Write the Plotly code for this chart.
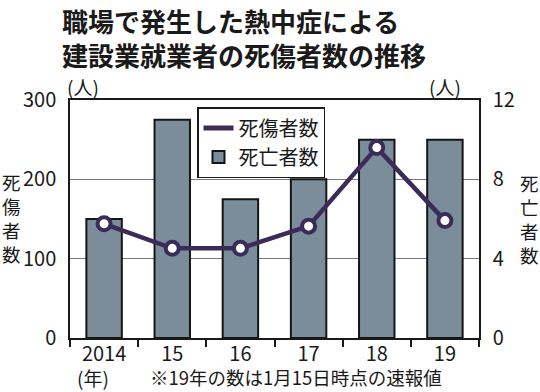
import plotly.graph_objects as go

years = ["2014", "15", "16", "17", "18", "19"]
casualties = [144, 113, 113, 141, 240, 148]   # 死傷者数 (left axis)
deaths = [6, 11, 7, 8, 10, 10]                # 死亡者数 (right axis)
left_ticks = [0, 100, 200, 300]
right_ticks = [0, 4, 8, 12]

FONT = "Noto Sans CJK JP"
BAR = "#7b8d9a"
LINE = "#3a2b58"

W, H = 540, 392
L, R, T, B = 70, 479, 100, 338
def px(x):
    return (x - L) / (R - L)
def py(y):
    return (B - y) / (B - T)

fig = go.Figure()
fig.add_trace(go.Bar(
    x=years, y=deaths, name="死亡者数", yaxis="y",
    marker=dict(color=BAR, line=dict(color="#151515", width=2)),
    width=0.52, legendrank=2,
))
fig.add_trace(go.Scatter(
    x=years, y=casualties, yaxis="y2", mode="lines+markers", showlegend=False,
    line=dict(color=LINE, width=4.5),
    marker=dict(size=13, color="white", line=dict(color=LINE, width=4)),
))
fig.add_trace(go.Scatter(
    x=[None], y=[None], yaxis="y2", mode="lines", name="死傷者数",
    line=dict(color=LINE, width=5), legendrank=1,
))

fig.update_layout(
    width=W, height=H,
    margin=dict(l=L, r=W - R, t=T, b=H - B, autoexpand=False),
    paper_bgcolor="white", plot_bgcolor="white",
    font=dict(family=FONT, color="#1a1a1a", size=20),
    xaxis=dict(
        type="category", tickson="boundaries", ticks="outside", ticklen=7,
        tickcolor="#1a1a1a", tickwidth=1.5, automargin=False,
        showline=True, linecolor="#1a1a1a", linewidth=1.5, mirror=True,
        showgrid=False, tickfont=dict(size=20), ticklabelstandoff=-3,
    ),
    yaxis=dict(
        side="right", range=[0, 12], tickvals=right_ticks, automargin=False,
        showgrid=True, gridcolor="#7a7a7a", gridwidth=1,
        showline=True, linecolor="#1a1a1a", linewidth=1.5,
        ticks="", ticklabelstandoff=8, zeroline=False, tickfont=dict(size=20),
    ),
    yaxis2=dict(
        side="left", overlaying="y", range=[0, 300], tickvals=left_ticks,
        automargin=False,
        showgrid=False, showline=True, linecolor="#1a1a1a", linewidth=1.5,
        ticks="", ticklabelstandoff=8, zeroline=False, tickfont=dict(size=20),
    ),
    legend=dict(
        x=px(197), y=py(107), xanchor="left", yanchor="top",
        bgcolor="white", bordercolor="#1a1a1a", borderwidth=1.5,
        font=dict(size=20), itemwidth=30, tracegroupgap=0,
    ),
    showlegend=True,
)

ann = []
ann.append(dict(text="職場で発生した熱中症による<br>建設業就業者の死傷者数の推移",
                x=px(60), y=py(0), xanchor="left", yanchor="top", align="left",
                font=dict(size=26, family=FONT, weight="bold"), showarrow=False))
ann.append(dict(text="(人)", x=px(83), y=py(86), xanchor="center", yanchor="middle",
                font=dict(size=19), showarrow=False))
ann.append(dict(text="(人)", x=px(445), y=py(86), xanchor="center", yanchor="middle",
                font=dict(size=19), showarrow=False))
ann.append(dict(text="(年)", x=px(93), y=py(377), xanchor="center", yanchor="middle",
                font=dict(size=19), showarrow=False))
ann.append(dict(text="死<br>傷<br>者<br>数", x=px(11), y=py(218),
                xanchor="center", yanchor="middle", font=dict(size=18.5), showarrow=False))
ann.append(dict(text="死<br>亡<br>者<br>数", x=px(529), y=py(219),
                xanchor="center", yanchor="middle", font=dict(size=18.5), showarrow=False))
ann.append(dict(text="※19年の数は1月15日時点の速報値", x=px(296), y=py(392),
                xanchor="center", yanchor="bottom", font=dict(size=18.5), showarrow=False))
for a in ann:
    a.update(xref="paper", yref="paper")
fig.update_layout(annotations=ann)

fig.write_html("out.html", post_script="document.body.style.margin='0';",
               config={"displayModeBar": False})
